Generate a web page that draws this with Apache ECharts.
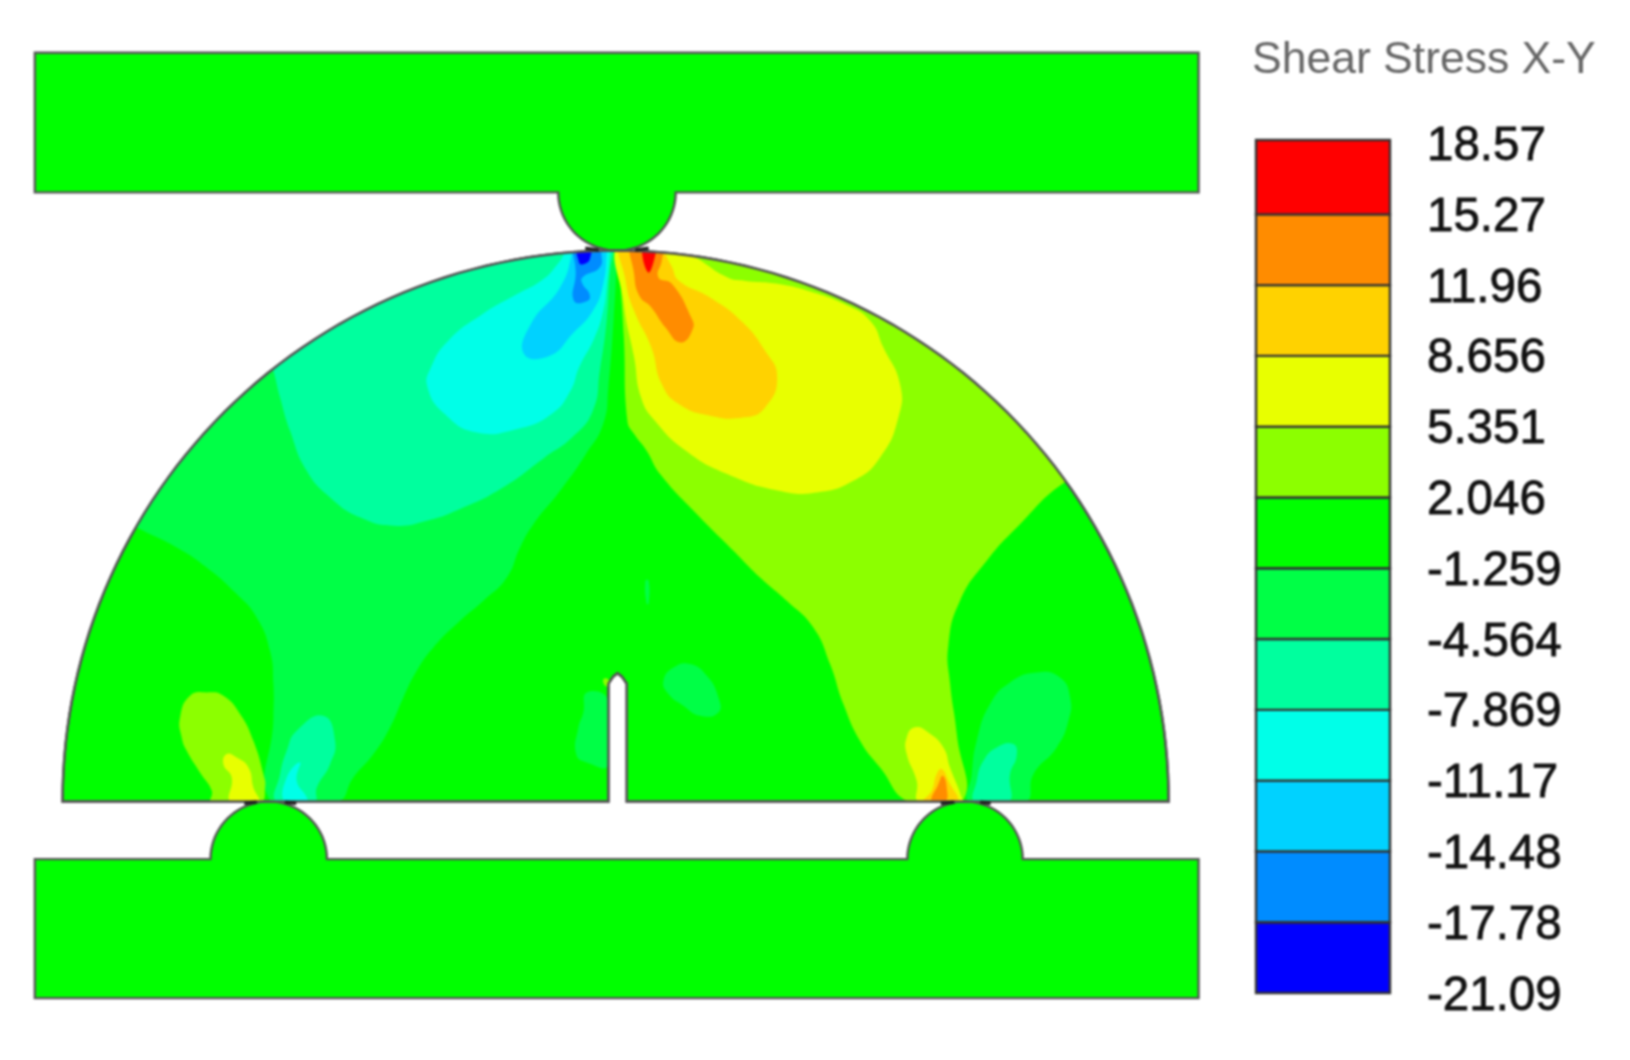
<!DOCTYPE html>
<html>
<head>
    <meta charset="utf-8">
    <title>Shear Stress X-Y</title>
    <script src="https://cdn.jsdelivr.net/npm/echarts@6/dist/echarts.min.js"></script>
    <style>
        html, body { margin: 0; padding: 0; background: #fff; }
        #main { width: 1630px; height: 1060px; filter: blur(0.8px); }
    </style>
</head>
<body>
    <div id="main"></div>

    <script type="text/javascript">
        // colour scale, bottom band first
        var tickLabels = ['-21.09', '-17.78', '-14.48', '-11.17', '-7.869', '-4.564', '-1.259', '2.046', '5.351', '8.656', '11.96', '15.27', '18.57'];
        var bandColors = ['#0000ff', '#008cff', '#00d2ff', '#00ffe8', '#00ff9e', '#00ff46', '#00ff00', '#8cff00', '#e8ff00', '#ffd200', '#ff8c00', '#ff0000'];
        var bandLow = [0, 1, 2, 3, 4, 5, 6, 7, 8, 9, 10, 11];
        var bandHigh = [1, 2, 3, 4, 5, 6, 7, 8, 9, 10, 11, 12.05];

        // band index of each stress level
        var BLUE = 0, AZURE = 1, SKY = 2, CYAN = 3, MINT = 4, SPRING = 5, GREEN = 6, LIME = 7, YELLOW = 8, GOLD = 9, ORANGE = 10, RED = 11;

        // half ellipse from left to right (or right to left), used for the rollers and the specimen
        function halfEllipse(cx, cy, rx, ry, steps, up, fromRight) {
            var pts = [];
            for (var a = 0; a <= steps; a++) {
                var t = Math.PI * a / steps;
                var c = fromRight ? Math.cos(t) : -Math.cos(t);
                pts.push([cx + rx * c, cy + (up ? -ry : ry) * Math.sin(t)]);
            }
            return pts;
        }

        // loading plates (model units, y down)
        var topPlate = [[33.5, 50], [1153, 50], [1153, 184.4]]
            .concat(halfEllipse(593.5, 184.4, 56.5, 56, 40, false, true))
            .concat([[33.5, 184.4]]);
        var bottomPlate = [[33.5, 959.5], [1153, 959.5], [1153, 825.8]]
            .concat(halfEllipse(928.3, 825.8, 55.5, 55.5, 40, true, true))
            .concat(halfEllipse(258.5, 825.8, 56, 55.5, 40, true, true))
            .concat([[33.5, 825.8]]);

        // notch in the specimen base
        var notch = [[602.9, 770.3], [602.9, 657], [598, 650], [594, 647], [590, 650], [585.3, 657], [585.3, 770.3]];

        // semicircular specimen
        var specimen = halfEllipse(592.2, 770.3, 532, 530, 120, true, false).concat(notch);

        // dark spots where plates and specimen touch
        var contactSpots = [
            [[563, 238], [576, 240]], [[611, 240], [624, 238]],
            [[235, 772], [247, 771]], [[274, 771], [285, 772]],
            [[905, 772], [918, 771]], [[943, 771], [953, 772]]
        ];

        // contour regions, upper left
        var springLeft = [[593.5, 243.7], [590.2, 307.8], [585.2, 372], [580.3, 407], [563.7, 436], [538.8, 471.4], [513.1, 503.5], [500.3, 525.9], [487.5, 554.8], [465, 577.2], [442.6, 596.5], [416.9, 622.1], [400.9, 644.6], [388, 670.2], [375.2, 699.1], [359.2, 724.7], [339.9, 747.2], [323.9, 771], [261.4, 771], [263, 689.5], [263, 657.4], [259.7, 625.3], [246.9, 593.3], [227.7, 570.8], [198.8, 545.2], [170, 525.9], [131.5, 506.7], [110, 495], [100, 380], [220, 280], [400, 200], [560, 220], [593.5, 225]];
        var mintLeft = [[263, 356], [269.4, 381.6], [279, 413.7], [295, 452.2], [317.5, 477.8], [346.3, 497], [378.4, 505.1], [410.5, 500.3], [442.5, 489], [484.2, 468], [524, 439.3], [550.5, 420], [570.3, 394.4], [577, 356], [583.6, 307.8], [586.9, 259.7], [590, 240], [590, 225], [450, 215], [350, 255], [255, 330]];
        var cyanLeft = [[586.9, 240], [583.6, 275.7], [580.3, 298.2], [572, 323.9], [557.1, 352.7], [548.8, 375.2], [530.6, 397.6], [497.4, 412], [457.7, 415.2], [427.9, 397.6], [411.3, 372], [414.6, 352.7], [431.2, 327], [464.3, 301.4], [497.4, 282.2], [520.6, 269.3], [533.9, 256.5], [543.8, 240], [543.8, 230], [586.9, 230]];
        var skyLeft = [[550.5, 230], [550.5, 242], [538.9, 275.7], [510.7, 311], [504.1, 339.9], [528.9, 341.5], [550.5, 320.6], [570.3, 298.2], [580.3, 272.5], [583.6, 242], [583.6, 230]];
        var azureLeft = [[553.8, 230], [553.8, 263], [552.1, 288.6], [565.4, 288.6], [567, 282], [560.4, 272.5], [560.4, 266], [577, 256.5], [578.6, 242], [578.6, 230]];
        var blueLeft = [[555.4, 230], [557, 251.7], [562, 253.3], [567.7, 247.5], [567.7, 230]];

        // contour regions, upper right
        var limeRight = [[595.2, 242], [600.1, 323.9], [603.5, 404], [610, 416.9], [622, 432.9], [635, 455.3], [670.2, 493.8], [705.5, 529.1], [731.1, 554.8], [756.8, 577.2], [782.4, 602.9], [798.5, 638.1], [811.3, 676.6], [827.3, 711.9], [846.6, 737.6], [875.4, 771], [925.2, 771], [920.4, 705.5], [914, 657.4], [912.3, 620], [923.5, 577.2], [949.2, 538.8], [978.1, 506.7], [1026.2, 461.8], [1060, 450], [950, 320], [800, 240], [650, 215], [595.2, 225]];
        var yellowRight = [[596.8, 230], [600.1, 291.8], [610, 343], [616.7, 381.6], [630, 404], [659.8, 432.9], [699.5, 455.3], [749.2, 471.4], [785.6, 473], [820.9, 461.8], [846.6, 439.3], [864.2, 400.9], [865.8, 368.8], [849.8, 333.5], [837, 307.8], [812.2, 291.8], [782.4, 280.6], [749.2, 272.5], [716, 269.3], [699.5, 266], [669.7, 247.5], [650, 238], [650, 230]];
        var goldRight = [[598.5, 230], [601.8, 269.3], [610, 298.2], [626.6, 333.5], [636.6, 368.7], [653, 388], [683, 399.2], [716, 400.8], [736, 391.2], [747.6, 362.3], [736, 336.7], [712.8, 307.8], [683, 285.4], [653, 269.3], [646.5, 256.5], [640, 242], [640, 230]];
        var orangeRight = [[608.4, 230], [610, 263], [615, 283.8], [626.6, 295], [640, 314], [654.8, 328.7], [666.4, 315.8], [664.8, 304.6], [646.5, 272.5], [633.3, 266], [636.6, 250], [638.2, 230]];
        var redRight = [[618.4, 230], [623.3, 261.3], [630.6, 243.7], [630.6, 230]];

        // lower left support
        var limeLobeLeft = [[203.7, 771], [203.7, 760], [192.4, 742.4], [179.6, 721.5], [174.8, 708.7], [173.2, 689.5], [182.8, 668.6], [198.9, 665.4], [214.9, 668.6], [230.9, 686.2], [243.7, 711.9], [253.4, 744], [255, 756.8], [250.2, 771]];
        var yellowLobeLeft = [[222, 771], [222.9, 747.2], [214.9, 734.4], [218, 724.7], [227.7, 728], [239, 737.6], [243.7, 756.8], [248.6, 771]];
        var mintLobeLeft = [[266.2, 771], [269.4, 744], [275.8, 721.5], [285.4, 702.3], [311, 687.9], [322.3, 711.9], [317.5, 734.4], [304.7, 756.8], [302.1, 771]];
        var cyanLobeLeft = [[274.2, 771], [275.8, 747.2], [288.6, 732.8], [285.4, 750.4], [295.1, 766.4], [295, 771]];

        // lower right support
        var yellowLobeRight = [[884.4, 771], [881.8, 750.4], [872.2, 724.7], [872.2, 708.7], [880.2, 699], [893, 703.9], [907.5, 718.3], [913.9, 737.6], [925.1, 766.4], [925.1, 771]];
        var goldLobeRight = [[888.3, 771], [896.3, 760], [901, 744], [905.9, 739], [912.3, 750.4], [920.3, 771]];
        var orangeLobeRight = [[896.3, 771], [902.7, 753.6], [906.9, 745.6], [910.7, 756.8], [909.1, 771]];
        var springLobeRight = [[933.2, 771], [934.8, 744], [939.6, 711.9], [952.4, 676.6], [971.6, 655.8], [997.3, 646.2], [1019.7, 651], [1029.4, 670.2], [1027.8, 692.7], [1016.5, 718.3], [994.1, 744], [986.1, 771]];
        var mintLobeRight = [[938, 771], [939.6, 750.4], [946, 731.2], [958.8, 718.3], [974.8, 715.1], [978, 726.3], [971.6, 744], [970, 771]];

        // small patches round the notch
        var springByNotch = [[564.4, 665.4], [561.2, 684.6], [556.4, 699], [554.2, 724.7], [564.4, 732.8], [585.3, 735], [585.3, 673.4]];
        var springBlob = [[638.2, 654.2], [647.8, 641.4], [663.8, 638.1], [679.9, 649.4], [691.1, 670.2], [691.1, 684.6], [673.5, 687.9], [657.4, 678.2], [643, 667]];
        var springSliver = [[620.8, 558], [624, 558], [624, 580], [622, 580]];
        var limeNotchTip = [[580.5, 652.6], [585.3, 653], [585.3, 659], [582, 659]];

        // painted in this order
        var regions = [
            [SPRING, springLeft], [MINT, mintLeft], [CYAN, cyanLeft], [SKY, skyLeft], [AZURE, azureLeft], [BLUE, blueLeft],
            [LIME, limeRight], [YELLOW, yellowRight], [GOLD, goldRight], [ORANGE, orangeRight], [RED, redRight],
            [LIME, limeLobeLeft], [YELLOW, yellowLobeLeft], [MINT, mintLobeLeft], [CYAN, cyanLobeLeft],
            [YELLOW, yellowLobeRight], [GOLD, goldLobeRight], [ORANGE, orangeLobeRight], [SPRING, springLobeRight], [MINT, mintLobeRight],
            [SPRING, springByNotch], [SPRING, springBlob], [SPRING, springSliver], [LIME, limeNotchTip]
        ];

        var myChart = echarts.init(document.getElementById('main'));

        function toPixels(api, pts) {
            return pts.map(function (p) { return api.coord(p); });
        }

        var option = {
            animation: false,
            title: {
                text: 'Shear Stress X-Y',
                left: 1247,
                top: 33,
                textStyle: { fontFamily: 'Liberation Sans', fontSize: 44.5, fontWeight: 'normal', color: '#666666' }
            },
            grid: [
                { left: 0, right: 0, top: 0, bottom: 0 },
                { left: 1256, width: 134, top: 140, height: 853 }
            ],
            xAxis: [
                { type: 'value', min: 0, max: 1568, show: false, gridIndex: 0 },
                { type: 'value', min: 0, max: 1, show: false, gridIndex: 1 }
            ],
            yAxis: [
                { type: 'value', min: -0.7, max: 1019, inverse: true, show: false, gridIndex: 0 },
                {
                    type: 'value', min: 0, max: 12.05, position: 'right', gridIndex: 1,
                    splitLine: { show: false }, axisLine: { show: false }, axisTick: { show: false },
                    axisLabel: {
                        customValues: bandLow.concat([12]),
                        margin: 37,
                        align: 'left',
                        // labels sit a little under their tick
                        verticalAlign: 'top',
                        lineHeight: 7,
                        fontFamily: 'Liberation Sans',
                        fontSize: 47.5,
                        color: '#111111',
                        textBorderColor: '#111111',
                        textBorderWidth: 0.8,
                        formatter: function (v) { return tickLabels[v]; }
                    }
                }
            ],
            series: [
                {
                    // plates and specimen fill
                    type: 'custom',
                    xAxisIndex: 0, yAxisIndex: 0,
                    clip: false,
                    silent: true,
                    z: 1,
                    data: [0, 1, 2],
                    renderItem: function (params, api) {
                        var shapes = [topPlate, bottomPlate, specimen];
                        return {
                            type: 'polygon',
                            shape: { points: toPixels(api, shapes[params.dataIndex]) },
                            style: { fill: bandColors[GREEN], stroke: '#555555', lineWidth: 2.4 }
                        };
                    }
                },
                {
                    // stress contours, clipped to the specimen
                    type: 'custom',
                    xAxisIndex: 0, yAxisIndex: 0,
                    clip: false,
                    silent: true,
                    z: 2,
                    data: regions.map(function (r, i) { return i; }),
                    renderItem: function (params, api) {
                        var r = regions[params.dataIndex];
                        return {
                            type: 'polygon',
                            shape: { points: toPixels(api, r[1]), smooth: 0.5 },
                            style: { fill: bandColors[r[0]] },
                            clipPath: { type: 'polygon', shape: { points: toPixels(api, specimen) } }
                        };
                    }
                },
                {
                    // outline again on top of the contours
                    type: 'custom',
                    xAxisIndex: 0, yAxisIndex: 0,
                    clip: false,
                    silent: true,
                    z: 3,
                    data: [0],
                    renderItem: function (params, api) {
                        return {
                            type: 'polygon',
                            shape: { points: toPixels(api, specimen) },
                            style: { fill: 'none', stroke: '#555555', lineWidth: 2.4 }
                        };
                    }
                },
                {
                    // contact spots
                    type: 'custom',
                    xAxisIndex: 0, yAxisIndex: 0,
                    clip: false,
                    silent: true,
                    z: 4,
                    data: contactSpots.map(function (s, i) { return i; }),
                    renderItem: function (params, api) {
                        return {
                            type: 'polyline',
                            shape: { points: toPixels(api, contactSpots[params.dataIndex]) },
                            style: { fill: 'none', stroke: '#222222', lineWidth: 3.5 }
                        };
                    }
                },
                {
                    // colour bar
                    type: 'custom',
                    xAxisIndex: 1, yAxisIndex: 1,
                    clip: false,
                    silent: true,
                    data: bandLow,
                    renderItem: function (params, api) {
                        var i = params.dataIndex;
                        var p0 = api.coord([0, bandHigh[i]]);
                        var p1 = api.coord([1, bandLow[i]]);
                        return {
                            type: 'rect',
                            shape: { x: p0[0], y: p0[1], width: p1[0] - p0[0], height: p1[1] - p0[1] },
                            style: { fill: bandColors[i], stroke: '#333333', lineWidth: 2.4 }
                        };
                    }
                }
            ]
        };

        myChart.setOption(option);
    </script>
</body>
</html>
